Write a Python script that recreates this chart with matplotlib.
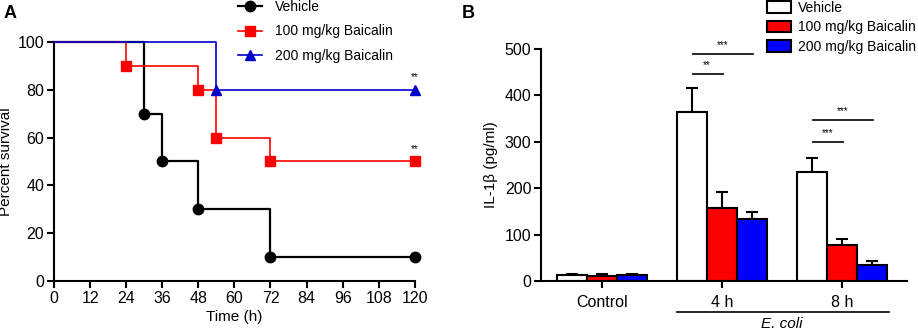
import matplotlib.pyplot as plt
from matplotlib.patches import Patch
from matplotlib.lines import Line2D
import numpy as np

plt.rcParams['font.family'] = ['Liberation Sans', 'DejaVu Sans']

# Panel A: survival curves (time, percent)
veh_t = [0, 30, 36, 48, 72, 120]
veh_s = [100, 70, 50, 30, 10, 10]
low_t = [0, 24, 48, 54, 72, 120]
low_s = [100, 90, 80, 60, 50, 50]
high_t = [0, 54, 120]
high_s = [100, 80, 80]

# Panel B: IL-1b
groups = ['Control', '4 h', '8 h']
veh_m = [12, 364, 234]
veh_e = [3, 52, 31]
low_m = [10, 157, 78]
low_e = [4, 34, 13]
high_m = [12, 134, 35]
high_e = [3, 14, 9]

labels = ['Vehicle', '100 mg/kg Baicalin', '200 mg/kg Baicalin']

fig = plt.figure(figsize=(9.18, 3.34), dpi=100)

# ---- A
ax = fig.add_axes([0.0588, 0.1587, 0.3931, 0.716])
handles = []
for t, s, c, m, lab in [(veh_t, veh_s, 'black', 'o', labels[0]),
                        (low_t, low_s, '#ff0000', 's', labels[1]),
                        (high_t, high_s, '#0000cc', '^', labels[2])]:
    lw = 1.6 if c == 'black' else 1.2
    ms = 7 if m == 's' else 7.5
    ax.step(t, s, where='post', color=c, lw=lw, clip_on=False, zorder=3)
    ax.plot(t[1:], s[1:], ls='none', marker=m, color=c, ms=ms, clip_on=False, zorder=4)
    handles.append(Line2D([], [], color=c, marker=m, ms=ms, lw=lw, label=lab))
ax.text(120, 83, '**', ha='center', va='bottom', fontsize=7)
ax.text(120, 53, '**', ha='center', va='bottom', fontsize=7)
ax.set_xlim(0, 120)
ax.set_ylim(0, 100)
ax.set_xticks(np.arange(0, 121, 12))
ax.set_yticks(np.arange(0, 101, 20))
ax.set_xlabel('Time (h)', fontsize=11, labelpad=3)
ax.set_ylabel('Percent survival', fontsize=11, labelpad=3)
ax.spines[['top', 'right']].set_visible(False)
for sp in ['left', 'bottom']:
    ax.spines[sp].set_linewidth(1.5)
ax.tick_params(width=1.5, length=5, labelsize=11.5, pad=2)
fig.legend(handles=handles, loc='upper left', bbox_to_anchor=(238 / 918, 1.0),
           frameon=False, fontsize=10, handlelength=1.75, handletextpad=0.9,
           labelspacing=0.75, borderpad=0, borderaxespad=0)
fig.text(0.004, 0.985, 'A', fontsize=13, fontweight='bold', va='top')

# ---- B
bx = fig.add_axes([0.5893, 0.1587, 0.3987, 0.6946])
x = np.arange(len(groups))
w = 0.25
colors = ['white', '#ff0000', '#0000ff']
for off, m, e, fc in [(-w, veh_m, veh_e, colors[0]), (0, low_m, low_e, colors[1]),
                      (w, high_m, high_e, colors[2])]:
    bx.bar(x + off, m, w, color=fc, edgecolor='black', lw=1.5, zorder=2)
    bx.errorbar(x + off, m, yerr=[np.zeros(3), e], fmt='none', ecolor='black',
                elinewidth=1.5, capsize=4, capthick=1.5, zorder=1)

# significance brackets
sig = [(1 - w, 1 + w, 490, '***'), (1 - w, 1, 447, '**'),
       (2 - w, 2 + w, 347, '***'), (2 - w, 2, 299, '***')]
for x0, x1, y, s in sig:
    bx.plot([x0 + 0.01, x1 + 0.01], [y, y], color='black', lw=1.2, clip_on=False)
    bx.text((x0 + x1) / 2, y + 8, s, ha='center', va='bottom', fontsize=7)

bx.set_xlim(-0.51, 2.54)
bx.set_ylim(0, 500)
bx.set_xticks(x)
bx.set_xticklabels(groups)
bx.set_yticks(np.arange(0, 501, 100))
bx.set_ylabel('IL-1β (pg/ml)', fontsize=11, labelpad=5)
bx.spines[['top', 'right']].set_visible(False)
for sp in ['left', 'bottom']:
    bx.spines[sp].set_linewidth(1.5)
bx.tick_params(width=1.5, length=5, labelsize=11.5, pad=2)
bx.tick_params(axis='x', pad=5)
bx.plot([0.62, 2.39], [-0.133 * 500, -0.133 * 500], color='black', lw=1.2, clip_on=False)
bx.text(1.5, -0.155 * 500, 'E. coli', style='italic', ha='center', va='top', fontsize=11)
bhandles = [Patch(facecolor=c, edgecolor='black', lw=1.5, label=l)
            for c, l in zip(colors, labels)]
fig.legend(handles=bhandles, loc='upper left', bbox_to_anchor=(767 / 918, 0.997),
           frameon=False, fontsize=10, handlelength=1.75, handleheight=0.95,
           handletextpad=0.45, labelspacing=0.38, borderpad=0, borderaxespad=0)
fig.text(0.503, 0.985, 'B', fontsize=13, fontweight='bold', va='top')

fig.savefig('out.png', dpi=100)
